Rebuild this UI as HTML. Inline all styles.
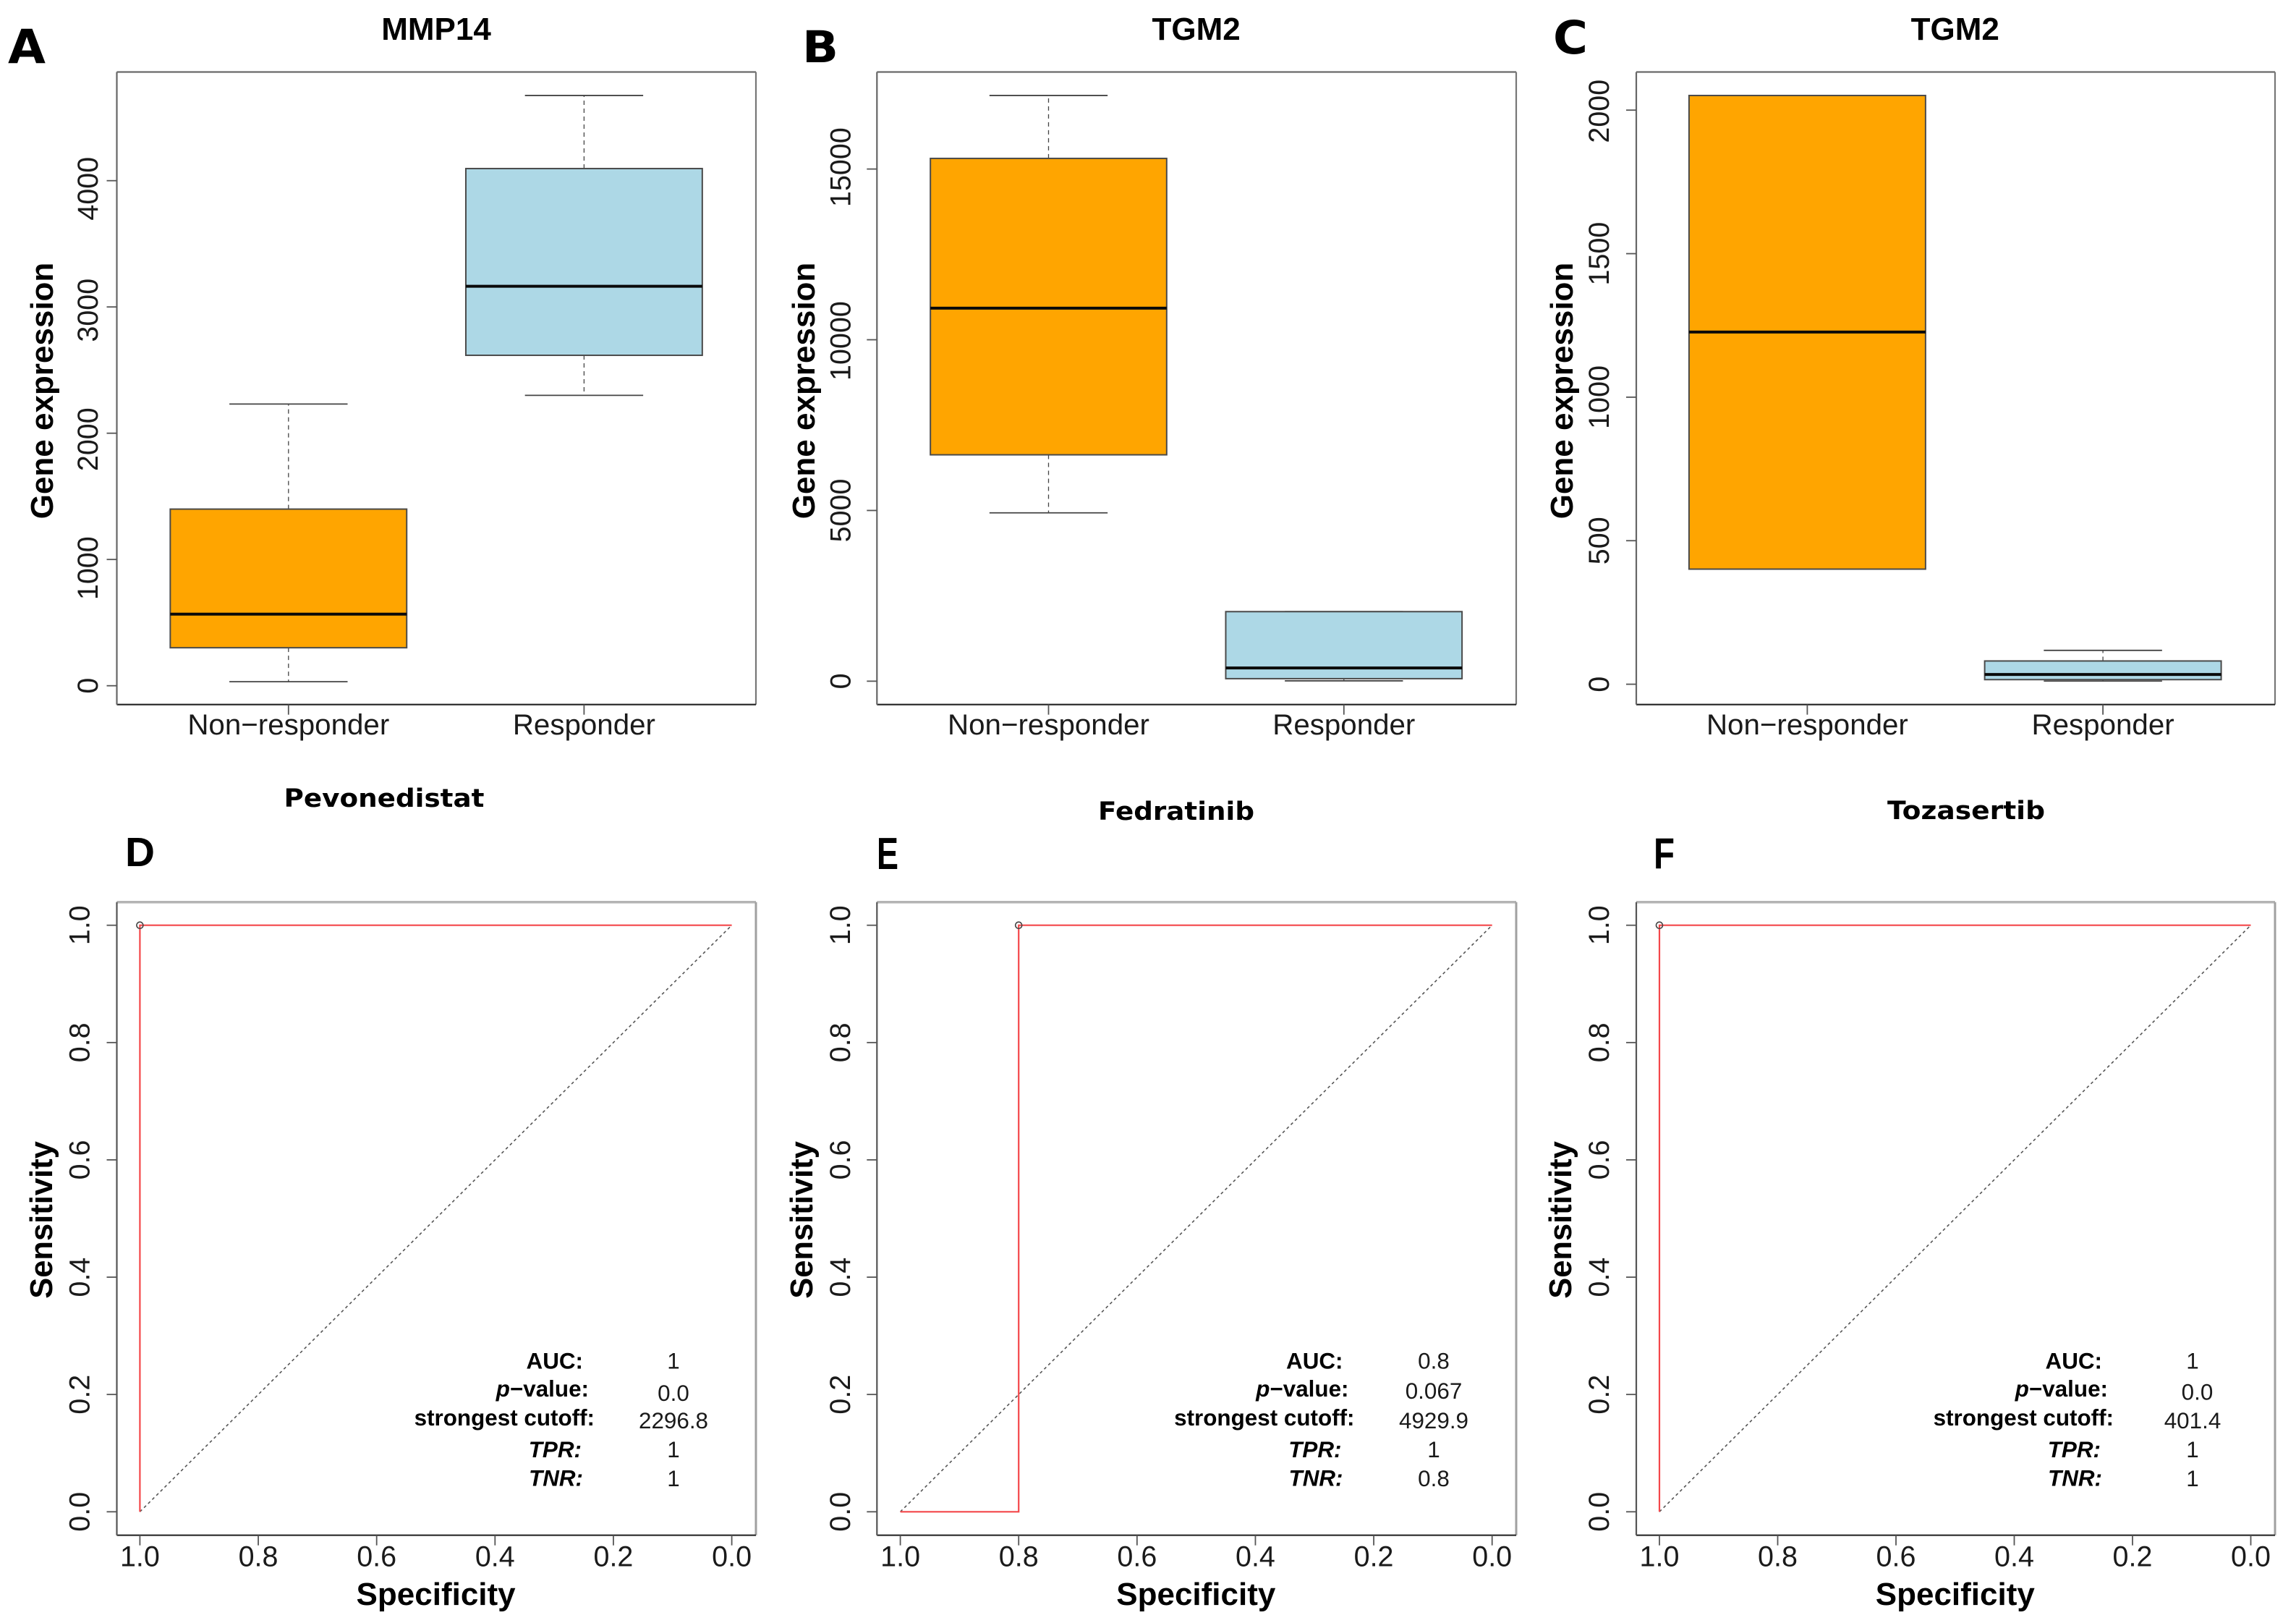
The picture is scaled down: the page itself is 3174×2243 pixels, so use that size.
<!DOCTYPE html>
<html lang="en">
<head>
<meta charset="utf-8">
<title>Gene expression box plots and ROC curves</title>
<style>
  html, body { margin: 0; padding: 0; background: #fff; }
  svg { display: block; }
  text { font-family: "Liberation Sans", Arial, sans-serif; fill: #1a1a1a; }
  .b { font-weight: bold; fill: #000; }
  .heavy { font-family: "DejaVu Sans", "Liberation Sans", sans-serif; font-weight: bold; fill: #000; }
</style>
</head>
<body>
<svg id="figure" xmlns="http://www.w3.org/2000/svg" width="3174" height="2243" viewBox="0 0 3174 2243">
  <rect width="3174" height="2243" fill="#fff"/>

  <text class="heavy" x="11" y="87" font-size="65" textLength="52" lengthAdjust="spacingAndGlyphs">A</text>
  <text class="heavy" x="1109" y="86" font-size="61" textLength="50" lengthAdjust="spacingAndGlyphs">B</text>
  <text class="heavy" x="2147" y="74" font-size="63" textLength="48" lengthAdjust="spacingAndGlyphs">C</text>
  <text class="b" x="173" y="1197" font-size="57" textLength="41" lengthAdjust="spacingAndGlyphs">D</text>
  <text class="b" x="1212" y="1201" font-size="62" textLength="30" lengthAdjust="spacingAndGlyphs">E</text>
  <text class="b" x="2286" y="1200" font-size="60" textLength="29" lengthAdjust="spacingAndGlyphs">F</text>

  <text class="b" x="603" y="55" font-size="44" text-anchor="middle">MMP14</text>
  <text class="b" x="1653.6" y="55" font-size="44" text-anchor="middle">TGM2</text>
  <text class="b" x="2702.8" y="55" font-size="44" text-anchor="middle">TGM2</text>

  <text class="heavy" x="531" y="1115" font-size="35" text-anchor="middle" textLength="277" lengthAdjust="spacingAndGlyphs">Pevonedistat</text>
  <text class="heavy" x="1626" y="1133" font-size="35" text-anchor="middle" textLength="216" lengthAdjust="spacingAndGlyphs">Fedratinib</text>
  <text class="heavy" x="2718" y="1132" font-size="35" text-anchor="middle" textLength="218" lengthAdjust="spacingAndGlyphs">Tozasertib</text>

  <text class="b" font-size="44" text-anchor="middle" transform="translate(73 540) rotate(-90)">Gene expression</text>
  <text class="b" font-size="44" text-anchor="middle" transform="translate(1126 540) rotate(-90)">Gene expression</text>
  <text class="b" font-size="44" text-anchor="middle" transform="translate(2174 540) rotate(-90)">Gene expression</text>

  <text class="b" font-size="43.5" text-anchor="middle" transform="translate(72 1686) rotate(-90)">Sensitivity</text>
  <text class="b" font-size="43.5" text-anchor="middle" transform="translate(1123 1686) rotate(-90)">Sensitivity</text>
  <text class="b" font-size="43.5" text-anchor="middle" transform="translate(2172 1686) rotate(-90)">Sensitivity</text>

  <text class="b" x="602.6" y="2218" font-size="44" text-anchor="middle">Specificity</text>
  <text class="b" x="1653.3" y="2218" font-size="44" text-anchor="middle">Specificity</text>
  <text class="b" x="2702.8" y="2218" font-size="44" text-anchor="middle">Specificity</text>
</svg>

<script>
// ---------- shared categories ----------
const boxCategories = ['Non\u2212responder', 'Responder'];

// ---------- Panel A: MMP14 ----------
const aTicks = [0, 1000, 2000, 3000, 4000];
const aLow = [32, 2300];
const aQ1 = [301, 2617];
const aMedian = [567, 3164];
const aQ3 = [1399, 4096];
const aHigh = [2231, 4675];

// ---------- Panel B: TGM2 ----------
const bTicks = [0, 5000, 10000, 15000];
const bLow = [4930, 10];
const bQ1 = [6630, 74];
const bMedian = [10926, 386];
const bQ3 = [15311, 2037];
const bHigh = [17155, 2037];

// ---------- Panel C: TGM2 ----------
const cTicks = [0, 500, 1000, 1500, 2000];
const cLow = [401, 11];
const cQ1 = [401, 16];
const cMedian = [1227, 34];
const cQ3 = [2051, 81];
const cHigh = [2051, 118];

// ---------- ROC panels ----------
const rocTicks = ['0.0', '0.2', '0.4', '0.6', '0.8', '1.0'];
const statLabels = ['AUC:', 'p\u2212value:', 'strongest cutoff:', 'TPR:', 'TNR:'];

const dSpecificity = [1, 1, 0];
const dSensitivity = [0, 1, 1];
const dBest = [1, 1];
const dStats = ['1', '0.0', '2296.8', '1', '1'];

const eSpecificity = [1, 0.8, 0.8, 0];
const eSensitivity = [0, 0, 1, 1];
const eBest = [0.8, 1];
const eStats = ['0.8', '0.067', '4929.9', '1', '0.8'];

const fSpecificity = [1, 1, 0];
const fSensitivity = [0, 1, 1];
const fBest = [1, 1];
const fStats = ['1', '0.0', '401.4', '1', '1'];

// ---------- helpers ----------
const NS = 'http://www.w3.org/2000/svg';
const figure = document.getElementById('figure');

function make(parent, tag, attrs) {
  const el = document.createElementNS(NS, tag);
  for (const k in attrs) el.setAttribute(k, attrs[k]);
  parent.appendChild(el);
  return el;
}
function linear(d0, d1, r0, r1) {
  return function (v) { return r0 + (v - d0) * (r1 - r0) / (d1 - d0); };
}

function drawBoxPanel(id, frame, xScale, yScale, yTicks, tickLabelX, labelNudge, low, q1, med, q3, high) {
  const g = make(figure, 'g', {});
  
  

  const edges = [
    ['frame-top', frame.l, frame.t, frame.r, frame.t, '#6a6a6a'],
    ['frame-right', frame.r, frame.t, frame.r, frame.b, '#777'],
    ['frame-bottom', frame.l, frame.b, frame.r, frame.b, '#222'],
    ['frame-left', frame.l, frame.t, frame.l, frame.b, '#666']
  ];
  edges.forEach(function (e) {
    const ln = make(g, 'line', { x1: e[1], y1: e[2], x2: e[3], y2: e[4], stroke: e[5], 'stroke-width': 2.2 });
    
    
  });

  yTicks.forEach(function (v, i) {
    const y = yScale(v);
    const t = make(g, 'line', { x1: frame.l - 14, y1: y, x2: frame.l, y2: y, stroke: '#555', 'stroke-width': 1.8 });
    
    
    const lab = make(g, 'text', { 'font-size': 39.5, 'text-anchor': 'middle', transform: 'translate(' + tickLabelX + ' ' + (y + labelNudge[i]) + ') rotate(-90)' });
    
    
    lab.textContent = String(v);
  });

  boxCategories.forEach(function (cat, i) {
    const cx = xScale(i);
    const bw = (xScale(1) - xScale(0)) * 0.8;
    const cap = bw / 4;
    const fill = i === 0 ? '#ffa500' : '#add8e6';
    const t = make(g, 'line', { x1: cx, y1: frame.b, x2: cx, y2: frame.b + 14, stroke: '#555', 'stroke-width': 1.8 });
    
    
    const lab = make(g, 'text', { x: cx, y: 1015, 'font-size': 40.3, 'text-anchor': 'middle' });
    
    
    lab.textContent = cat;

    const wh = make(g, 'line', { x1: cx, y1: yScale(q3[i]), x2: cx, y2: yScale(high[i]), stroke: '#444', 'stroke-width': 1.3, 'stroke-dasharray': '6 5' });
    
    
    const wl = make(g, 'line', { x1: cx, y1: yScale(q1[i]), x2: cx, y2: yScale(low[i]), stroke: '#444', 'stroke-width': 1.3, 'stroke-dasharray': '6 5' });
    
    
    const ch = make(g, 'line', { x1: cx - cap, y1: yScale(high[i]), x2: cx + cap, y2: yScale(high[i]), stroke: '#444', 'stroke-width': 1.8 });
    
    
    const cl = make(g, 'line', { x1: cx - cap, y1: yScale(low[i]), x2: cx + cap, y2: yScale(low[i]), stroke: '#444', 'stroke-width': 1.8 });
    
    

    const box = make(g, 'rect', { x: cx - bw / 2, y: yScale(q3[i]), width: bw, height: yScale(q1[i]) - yScale(q3[i]), fill: fill, stroke: '#4a4a4a', 'stroke-width': 2 });
    
    
    const m = make(g, 'line', { x1: cx - bw / 2, y1: yScale(med[i]), x2: cx + bw / 2, y2: yScale(med[i]), stroke: '#0a0a0a', 'stroke-width': 4 });
    
    
  });
}

function drawRocPanel(id, frame, xScale, yScale, tickLabelX, spec, sens, best, stats, labelShift, valueX, pValueX, pValueY) {
  const g = make(figure, 'g', {});
  
  

  const edges = [
    ['frame-top', frame.l, frame.t, frame.r, frame.t, '#b4b4b4', 3.5],
    ['frame-right', frame.r, frame.t, frame.r, frame.b, '#a0a0a0', 3],
    ['frame-bottom', frame.l, frame.b, frame.r, frame.b, '#2a2a2a', 2.2],
    ['frame-left', frame.l, frame.t, frame.l, frame.b, '#555', 2.2]
  ];
  edges.forEach(function (e) {
    const ln = make(g, 'line', { x1: e[1], y1: e[2], x2: e[3], y2: e[4], stroke: e[5], 'stroke-width': e[6] });
    
    
  });

  rocTicks.forEach(function (label) {
    const v = parseFloat(label);
    const x = xScale(v), y = yScale(v);
    const ty = make(g, 'line', { x1: frame.l - 14, y1: y, x2: frame.l, y2: y, stroke: '#555', 'stroke-width': 1.8 });
    
    
    const tx = make(g, 'line', { x1: x, y1: frame.b, x2: x, y2: frame.b + 14, stroke: '#555', 'stroke-width': 1.8 });
    
    
    const ly = make(g, 'text', { 'font-size': 39.5, 'text-anchor': 'middle', transform: 'translate(' + tickLabelX + ' ' + y + ') rotate(-90)' });
    
    
    ly.textContent = label;
    const lx = make(g, 'text', { x: x, y: 2164.5, 'font-size': 39.5, 'text-anchor': 'middle' });
    
    
    lx.textContent = label;
  });

  const diag = make(g, 'line', { x1: xScale(1), y1: yScale(0), x2: xScale(0), y2: yScale(1), stroke: '#555', 'stroke-width': 1.6, 'stroke-dasharray': '4 4' });
  
  

  const pts = spec.map(function (s, i) { return xScale(s) + ',' + yScale(sens[i]); }).join(' ');
  const curve = make(g, 'polyline', { points: pts, fill: 'none', stroke: '#f4474a', 'stroke-width': 2.2 });
  
  

  const dot = make(g, 'circle', { cx: xScale(best[0]), cy: yScale(best[1]), r: 4.5, fill: 'none', stroke: '#444', 'stroke-width': 1.6 });
  
  

  const labelRight = [806, 814, 822, 804, 806];
  const labelBase = [1891.7, 1930, 1969.8, 2014, 2053.3];
  const valueBase = [1891.7, 1935, 1974, 2014, 2054];
  statLabels.forEach(function (label, i) {
    const t = make(g, 'text', { x: labelRight[i] + labelShift, y: labelBase[i], 'font-size': 31.4, 'text-anchor': 'end', 'class': 'b' });
    
    
    if (i === 1) {
      const ts = make(t, 'tspan', { 'font-style': 'italic' });
      ts.textContent = label.charAt(0);
      const rest = make(t, 'tspan', {});
      rest.textContent = label.slice(1);
    } else {
      if (i >= 3) t.setAttribute('font-style', 'italic');
      t.textContent = label;
    }
    const val = make(g, 'text', { x: i === 1 ? pValueX : valueX, y: i === 1 ? pValueY : valueBase[i], 'font-size': 31.4, 'text-anchor': 'middle' });
    
    
    val.textContent = stats[i];
  });
}

// ---------- layout ----------
const frameTopA = { l: 161.5, r: 1045, t: 99.5, b: 973.7 };
const frameTopB = { l: 1212.3, r: 2096, t: 99.5, b: 973.7 };
const frameTopC = { l: 2262, r: 3145, t: 99.5, b: 973.7 };
const frameRocD = { l: 161.5, r: 1045, t: 1246.7, b: 2121.7 };
const frameRocE = { l: 1212.3, r: 2096, t: 1246.7, b: 2121.7 };
const frameRocF = { l: 2262, r: 3145, t: 1246.7, b: 2121.7 };

drawBoxPanel('a', frameTopA, linear(0, 1, 398.8, 807.4), linear(0, 4000, 947.7, 249.7), aTicks, 134.9, [0, 12, 8.5, 4.5, 11], aLow, aQ1, aMedian, aQ3, aHigh);
drawBoxPanel('b', frameTopB, linear(0, 1, 1449.5, 1857.8), linear(0, 15000, 941.4, 233.6), bTicks, 1175.5, [0, 0, 1.5, -2.5], bLow, bQ1, bMedian, bQ3, bHigh);
drawBoxPanel('c', frameTopC, linear(0, 1, 2498.4, 2907.1), linear(0, 2000, 945.6, 152.2), cTicks, 2224, [0, 0, 0, 0, 1.5], cLow, cQ1, cMedian, cQ3, cHigh);

const rocY = linear(0, 1, 2089.3, 1278.7);
drawRocPanel('d', frameRocD, linear(1, 0, 193.4, 1011.6), rocY, 123.5, dSpecificity, dSensitivity, dBest, dStats, 0, 931, 931, 1936);
drawRocPanel('e', frameRocE, linear(1, 0, 1244.6, 2062.7), rocY, 1175, eSpecificity, eSensitivity, eBest, eStats, 1050.5, 1982, 1982, 1933);
drawRocPanel('f', frameRocF, linear(1, 0, 2294, 3111.5), rocY, 2224, fSpecificity, fSensitivity, fBest, fStats, 2100, 3031, 3037.5, 1934.4);
</script>
</body>
</html>
